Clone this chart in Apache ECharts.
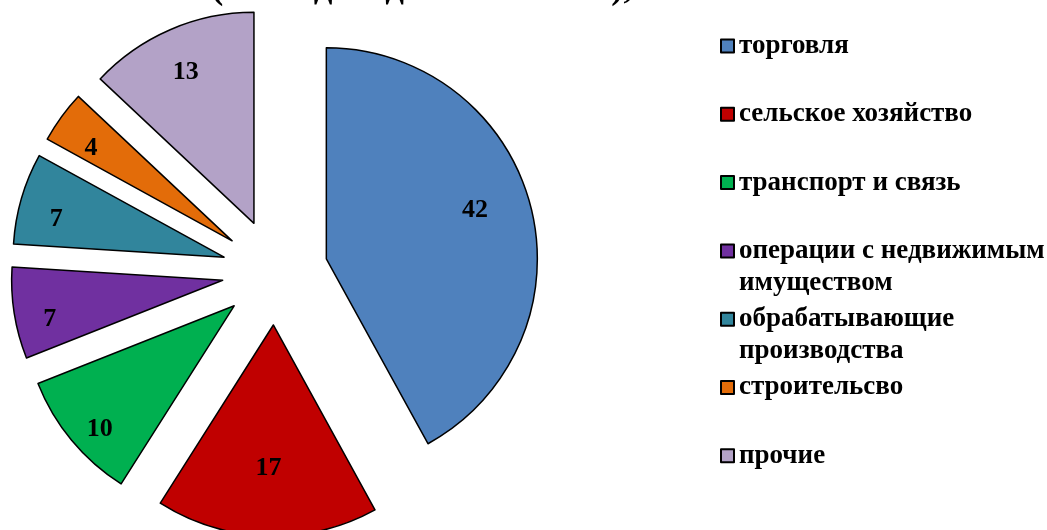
<!DOCTYPE html>
<html><head><meta charset="utf-8">
<script src="https://cdn.jsdelivr.net/npm/echarts@6/dist/echarts.min.js"></script>
<style>html,body{margin:0;padding:0;background:#fff}#c{width:1047px;height:530px}</style>
</head><body><div id="c"></div>
<script>
const titleText = '(по видам деятельности), %';
const categories = ['торговля', 'сельское хозяйство', 'транспорт и связь', 'операции с недвижимым\nимуществом', 'обрабатывающие\nпроизводства', 'строительсво', 'прочие'];
const values = [42, 17, 10, 7, 7, 4, 13];
const colors = ['#4F81BD', '#C00000', '#00B050', '#7030A0', '#31859C', '#E36C09', '#B3A2C7'];

const FONT = '"Liberation Serif","Times New Roman",serif';
const L = 32; // legend line height
const legends = categories.map((name, i) => {
  const lines = name.split('\n').length;
  const centerY = 46 + 68.3 * i;
  const shown = lines > 1 ? 2 * lines - 1 : 1; // pad with blank lines so first line centres on icon
  return {
    orient: 'vertical', left: 720, padding: 0,
    top: centerY - shown * L / 2,
    data: [name], icon: 'rect', itemWidth: 13, itemHeight: 13, itemGap: 0,
    selectedMode: false,
    formatter: n => (lines > 1 ? '\n'.repeat(lines - 1) : '') + n,
    textStyle: { fontFamily: FONT, fontWeight: 'bold', fontSize: 27, color: '#000', lineHeight: L }
  };
});

const CENTER = [275, 272], R = 211, OFFSET = 53;
const labelStyle = { fontFamily: FONT, fontWeight: 'bold', fontSize: 26, color: '#000' };
function labelSeries(r0, pick, pad, fmt, lh) {
  return {
    type: 'pie', center: CENTER, radius: [r0, R], startAngle: 90, clockwise: true,
    selectedMode: 'multiple', selectedOffset: OFFSET, silent: true, legendHoverLink: false,
    data: categories.map((n, i) => ({ name: n, value: values[i], selected: true,
      label: { show: pick(values[i]) } })),
    itemStyle: { color: 'rgba(0,0,0,0)', borderWidth: 0 },
    select: { itemStyle: { color: 'rgba(0,0,0,0)', borderWidth: 0 } },
    label: Object.assign({ show: true, position: 'inside', formatter: fmt, padding: pad, lineHeight: lh }, labelStyle),
    labelLine: { show: false },
    emphasis: { disabled: true }
  };
}

const chart = echarts.init(document.getElementById('c'), null, { renderer: 'canvas' });
chart.setOption({
  animation: false,
  backgroundColor: '#fff',
  title: { text: titleText, left: 440, textAlign: 'center', top: -35, padding: 5,
    textStyle: { fontFamily: FONT, fontWeight: 'bold', fontSize: 37, color: '#000' } },
  legend: legends,
  series: [{
    type: 'pie', center: CENTER, radius: [0, R], startAngle: 90, clockwise: true,
    selectedMode: 'multiple', selectedOffset: OFFSET,
    data: categories.map((n, i) => ({ name: n, value: values[i], selected: true, itemStyle: { color: colors[i] } })),
    itemStyle: { borderColor: '#000', borderWidth: 1.5 },
    label: { show: false }, labelLine: { show: false },
    emphasis: { disabled: true }, select: { itemStyle: { borderColor: '#000', borderWidth: 1.5 } }
  },
  labelSeries(90, v => v > 15, 0, '{c}\n', 20),
  labelSeries(137, v => v <= 15, [0, 0, 0, 4], '\n{c}', 22)]
});
</script></body></html>
